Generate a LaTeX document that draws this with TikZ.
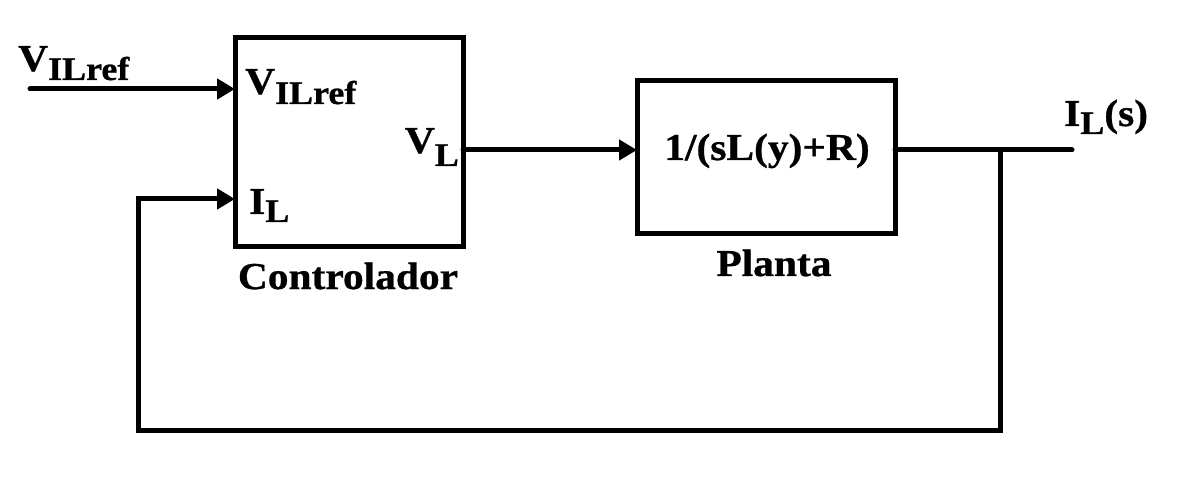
\documentclass[tikz,border=0pt]{standalone}
\usepackage{fontspec}
\setmainfont{Liberation Serif}[FakeStretch=1.09, BoldFeatures={FakeBold=0.8}]
\usetikzlibrary{arrows.meta, positioning}
% base letter with a lowered index
\newcommand{\lsub}[3][10pt]{#2\raisebox{-#1}{\fontsize{33}{33}\selectfont #3}}

\begin{document}
\begin{tikzpicture}[x=1pt, y=-1pt,
    % Blocks and labels
    block/.style={rectangle, draw, line width=5pt, inner sep=0pt, outer sep=0pt},
    lbl/.style={inner sep=0pt, font=\fontsize{38}{38}\selectfont\bfseries},
    port/.style={inner sep=0pt, font=\fontsize{38}{38}\selectfont\bfseries},
    % Signal lines
    sig/.style={line width=5pt, line cap=round, -{Triangle[length=18pt, width=20pt]}},
    wire/.style={line width=5pt, line cap=round},
]
\useasboundingbox (0,0) rectangle (1178,481);

% ============================================================================
% BLOCKS
% ============================================================================
\node[block, minimum width=228pt, minimum height=209pt] (ctrl) at (349,142.5) {};
\node[block, minimum width=258pt, minimum height=153pt] (plant) at (766,157.5) {};

\node[lbl, anchor=base] (ctrlname) at (348,289) {Controlador};
\node[lbl, anchor=base] (plantname) at (774,276) {Planta};
\node[lbl, anchor=base] (tf) at (767,160) {1/(sL(y)+R)};

% ============================================================================
% PORT LABELS
% ============================================================================
\node[port, anchor=base west] (refin) at (18,71) {\lsub[9pt]{V}{ILref}};
\node[port, anchor=base west] (refport) at (245,94) {\lsub[10pt]{V}{ILref}};
\node[port, anchor=base east] (vlport) at (459,153) {\lsub[13pt]{V}{L}};
\node[port, anchor=base west] (ilport) at (249,214) {\lsub[8pt]{I}{L}};
\node[port, anchor=base west] (outlbl) at (1064,126) {\lsub[8pt]{I}{L}(s)};

% ============================================================================
% CONNECTIONS
% ============================================================================
\coordinate (src) at (30,89);
\coordinate (tap) at (1000,150);
\coordinate (sink) at (1072,150);
\coordinate (fbleft) at (138,430);

\draw[sig] (src) -- (src -| ctrl.west);
\draw[sig] ([yshift=7.5pt]plant.west -| ctrl.east) -- ([yshift=7.5pt]plant.west);
\draw[wire] ([yshift=7.5pt]plant.east) -- (sink);

% Feedback loop
\draw[sig, line cap=butt] (tap) -- (tap |- fbleft) -- (fbleft) -- (fbleft |- 0,199) -- (ctrl.west |- 0,199);

\end{tikzpicture}
\end{document}
